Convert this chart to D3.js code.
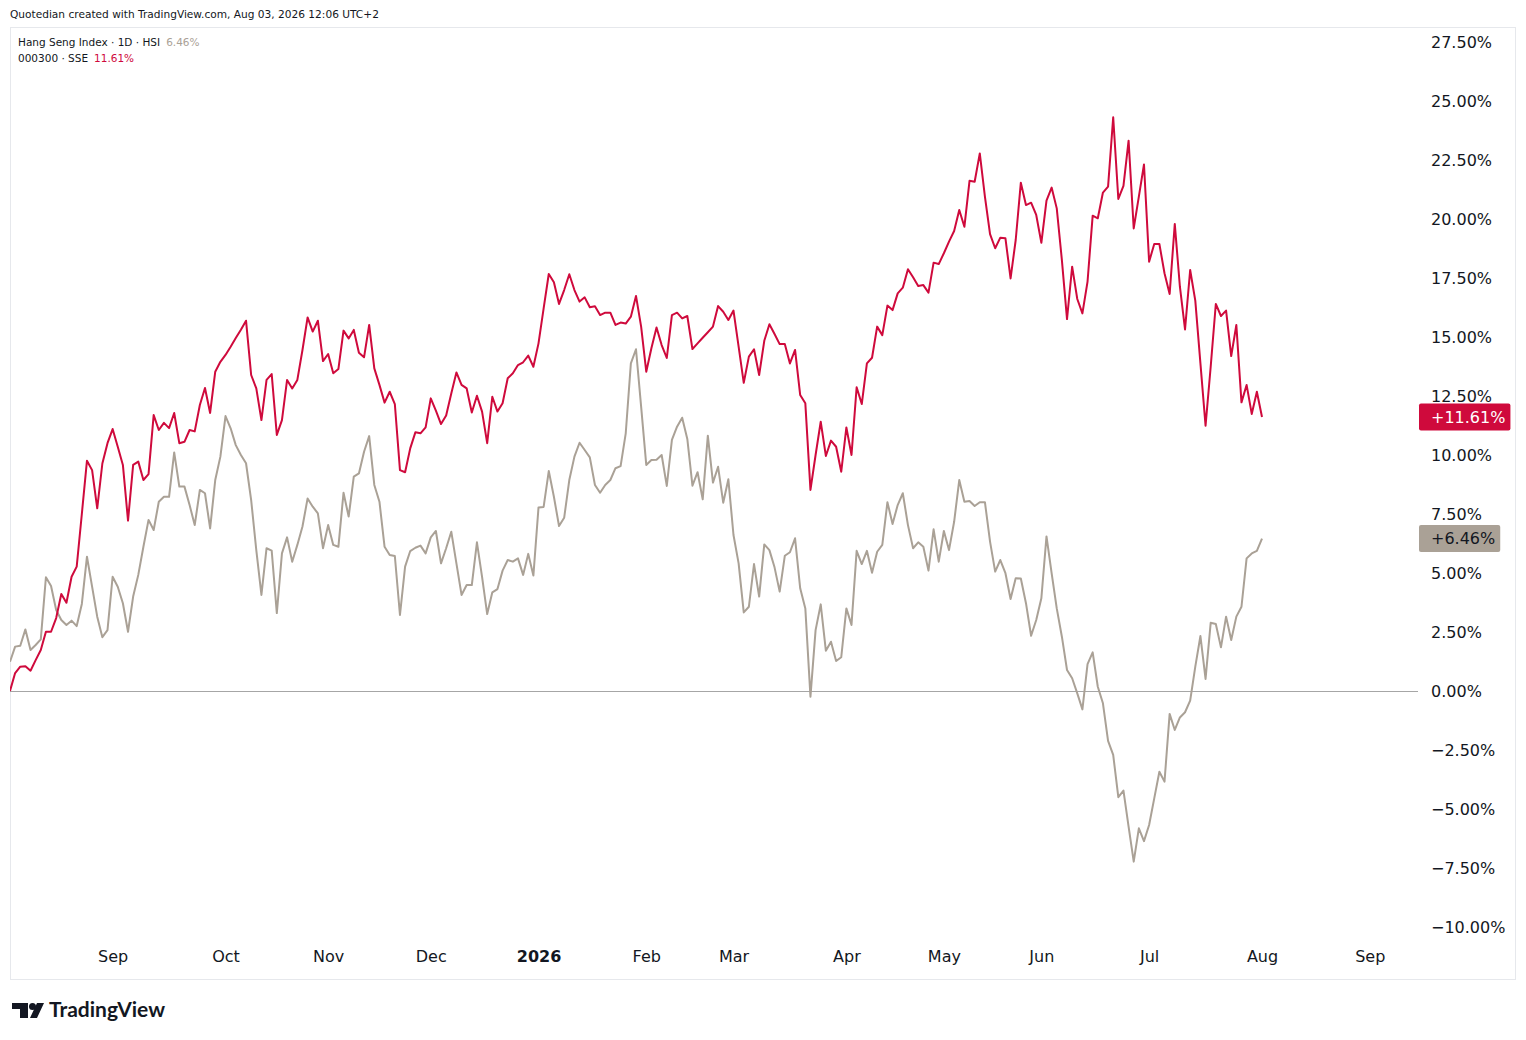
<!DOCTYPE html>
<html>
<head>
<meta charset="utf-8">
<script src="https://cdn.jsdelivr.net/npm/d3@7/dist/d3.min.js"></script>
<style>
body { margin: 0; background: #fff; }
svg text { fill: #131722; }
</style>
</head>
<body>
<svg id="chart"></svg>
<script>
// % change since first bar, one value per HK trading day (Aug 4 2025 .. Aug 3 2026)
var hsiValues = [
  1.24,1.88,1.92,2.61,1.74,1.95,2.19,4.82,4.45,3.43,3.01,2.80,2.98,2.75,3.69,5.69,4.42,3.15,2.28,2.58,
  4.84,4.42,3.72,2.51,4.00,4.92,6.11,7.25,6.82,8.02,8.23,8.23,10.11,8.66,8.66,7.88,7.03,8.52,8.38,6.89,
  8.94,9.93,11.65,11.13,10.42,10.00,9.65,8.09,5.97,4.07,6.05,5.95,3.30,5.83,6.51,5.48,6.19,6.97,8.16,7.81,
  7.53,6.05,7.03,6.19,6.11,8.40,7.39,9.08,9.22,10.14,10.80,8.73,8.02,6.11,5.76,5.72,3.22,5.27,5.93,6.07,
  6.16,5.83,6.51,6.78,5.41,6.05,6.75,5.41,4.07,4.49,4.49,6.30,4.84,3.26,4.18,4.32,5.10,5.55,5.48,5.62,
  4.92,5.81,4.89,7.78,7.80,9.32,8.23,6.99,7.34,8.94,9.93,10.52,10.21,9.90,8.73,8.40,8.73,8.94,9.44,9.53,
  10.92,13.88,14.48,12.05,9.58,9.79,9.80,10.00,8.69,10.64,11.20,11.58,10.68,8.70,9.27,8.12,10.82,8.83,9.50,7.98,
  8.97,6.61,5.41,3.33,3.57,5.38,4.00,6.21,5.97,5.24,4.21,5.73,5.88,6.47,4.35,3.50,-0.24,2.58,3.67,1.71,
  2.09,1.27,1.43,3.50,2.80,5.94,5.38,5.94,5.01,5.90,6.19,8.00,7.08,7.88,8.38,7.03,6.05,6.30,6.11,5.10,
  6.85,5.48,6.78,5.97,7.17,8.94,8.02,8.05,7.84,8.00,8.00,6.33,5.06,5.55,4.99,3.90,4.78,4.77,3.72,2.34,
  3.01,3.93,6.55,4.99,3.50,2.30,0.89,0.54,-0.10,-0.78,1.14,1.64,0.18,-0.52,-2.11,-2.71,-4.50,-4.22,-5.75,-7.23,
  -5.82,-6.36,-5.68,-4.55,-3.42,-3.84,-0.97,-1.65,-1.12,-0.90,-0.41,1.03,2.33,0.51,2.89,2.84,1.85,3.15,2.16,3.15,
  3.57,5.62,5.83,5.94,6.46
];
var sseValues = [
  0.00,0.76,1.03,1.05,0.86,1.31,1.74,2.51,2.51,3.09,4.11,3.74,4.84,5.27,7.50,9.76,9.36,7.74,9.64,10.50,
  11.10,10.35,9.58,7.22,9.58,9.72,8.94,9.19,11.69,11.06,11.36,11.14,11.78,10.50,10.56,11.06,11.00,12.12,12.84,11.78,
  13.53,13.95,14.24,14.59,14.96,15.31,15.69,13.39,12.82,11.48,13.18,13.43,10.85,11.48,13.18,12.82,13.18,14.45,15.83,15.23,
  15.69,13.98,14.28,13.46,13.64,15.27,14.94,15.30,14.33,14.14,15.51,13.67,12.97,12.22,12.68,12.16,9.36,9.27,10.28,10.96,
  10.92,11.17,12.40,11.88,11.31,11.67,12.61,13.50,12.97,12.82,11.80,12.51,11.84,10.50,12.47,11.84,12.19,13.25,13.46,13.81,
  13.93,14.21,13.74,14.73,16.21,17.67,17.32,16.40,16.99,17.66,16.99,16.50,16.68,16.26,16.30,15.93,16.03,16.03,15.51,15.61,
  15.57,15.86,16.74,15.44,13.53,14.52,15.40,14.66,14.11,15.93,16.03,15.79,15.89,14.49,14.73,14.97,15.20,15.44,16.31,16.07,
  15.72,16.12,14.59,13.06,14.17,14.48,13.39,14.84,15.54,15.13,14.70,14.70,13.88,14.45,12.54,12.19,8.52,10.00,11.41,9.96,
  10.61,10.35,9.29,11.17,10.00,12.87,12.16,13.88,14.12,15.44,15.08,16.33,16.14,16.85,17.09,17.87,17.53,17.16,17.20,16.88,
  18.15,18.09,18.55,19.04,19.49,20.38,19.67,21.62,21.58,22.78,20.95,19.36,18.76,19.21,19.18,17.48,19.11,21.54,20.59,20.69,
  20.17,18.99,20.78,21.33,20.45,18.26,15.76,17.98,16.61,16.00,17.35,20.14,20.03,21.12,21.37,24.31,20.85,21.40,23.32,19.60,
  20.95,22.31,18.19,18.94,18.94,17.70,16.82,19.79,17.13,15.32,17.84,16.54,13.88,11.24,13.74,16.40,15.89,16.12,14.19,15.51,
  12.23,12.97,11.74,12.68,11.61
];
var priceTicks = [-10, -7.5, -5, -2.5, 0, 2.5, 5, 7.5, 10, 12.5, 15, 17.5, 20, 22.5, 25, 27.5];
var monthNames = ["Jan","Feb","Mar","Apr","May","Jun","Jul","Aug","Sep","Oct","Nov","Dec"];
var hkHolidays = ["2025-10-01","2025-10-07","2025-10-29","2025-12-25","2025-12-26","2026-01-01",
  "2026-02-17","2026-02-18","2026-02-19","2026-04-03","2026-04-06","2026-04-07",
  "2026-05-01","2026-05-25","2026-06-19","2026-07-01"];
var firstDay = "2025-08-04", lastDay = "2026-10-01";

var W = 1526, H = 1040;
var red = "#cf0a3c", grey = "#aaa196";
var font = "'DejaVu Sans', sans-serif";

var parse = d3.timeParse("%Y-%m-%d"), fmt = d3.timeFormat("%Y-%m-%d");
var days = d3.timeDay.range(parse(firstDay), parse(lastDay)).filter(function(d){
  return d.getDay() % 6 != 0 && hkHolidays.indexOf(fmt(d)) < 0;
});

var svg = d3.select("#chart").attr("width", W).attr("height", H).style("font-family", font);

var plot = { left: 10, right: 1418, top: 27, bottom: 940 };

var x = d3.scaleLinear().domain([0, sseValues.length - 1]).range([10, 1262]);
var y = d3.scaleLinear().domain([0, 25]).range([691, 101]);

// frame
svg.append("rect").attr("x", 10.5).attr("y", 27.5).attr("width", 1505).attr("height", 952)
  .attr("fill", "none").attr("stroke", "#e6e8ec");

svg.append("text").attr("x", 10).attr("y", 18).style("font-size", "10.6px")
  .text("Quotedian created with TradingView.com, Aug 03, 2026 12:06 UTC+2");

svg.append("clipPath").attr("id", "clip").append("rect")
  .attr("x", plot.left).attr("y", plot.top).attr("width", plot.right - plot.left).attr("height", plot.bottom - plot.top);

// zero line
svg.append("line").attr("x1", plot.left).attr("x2", plot.right)
  .attr("y1", Math.round(y(0)) + 0.5).attr("y2", Math.round(y(0)) + 0.5)
  .attr("stroke", "#a6a6a6").attr("stroke-width", 1);

var line = d3.line().x(function(d, i){ return x(i); }).y(function(d){ return y(d); });

var g = svg.append("g").attr("clip-path", "url(#clip)");
g.append("path").datum(hsiValues).attr("d", line).attr("fill", "none")
  .attr("stroke", grey).attr("stroke-width", 2).attr("stroke-linejoin", "round");
g.append("path").datum(sseValues).attr("d", line).attr("fill", "none")
  .attr("stroke", red).attr("stroke-width", 2).attr("stroke-linejoin", "round");

// legend
var leg = svg.append("g").style("font-size", "10.5px");
var l1 = leg.append("text").attr("x", 18).attr("y", 46);
l1.append("tspan").text("Hang Seng Index · 1D · HSI");
l1.append("tspan").attr("dx", 6).style("fill", grey).text(d3.format(".2f")(hsiValues[hsiValues.length-1]) + "%");
var l2 = leg.append("text").attr("x", 18).attr("y", 62);
l2.append("tspan").text("000300 · SSE");
l2.append("tspan").attr("dx", 6).style("fill", red).text(d3.format(".2f")(sseValues[sseValues.length-1]) + "%");

// price axis
var yAxis = d3.axisRight(y).tickValues(priceTicks).tickSize(0).tickPadding(0)
  .tickFormat(function(d){ return d3.format(".2f")(d) + "%"; });
var ya = svg.append("g").attr("transform", "translate(1431,0)").call(yAxis);
ya.select(".domain").remove();
ya.selectAll("text").style("font-size", "16px").style("font-family", font).style("fill", "#131722");

// time axis: first trading day of each month
var monthTicks = [];
days.forEach(function(d, i){
  if (i > 0 && d.getMonth() != days[i-1].getMonth() && x(i) < 1400) monthTicks.push(i);
});
var xAxis = d3.axisBottom(x).tickValues(monthTicks).tickSize(0).tickPadding(0)
  .tickFormat(function(i){
    var d = days[i];
    return d.getMonth() == 0 ? String(d.getFullYear()) : monthNames[d.getMonth()];
  });
var xa = svg.append("g").attr("transform", "translate(0,951)").call(xAxis);
xa.select(".domain").remove();
xa.selectAll("text").style("font-size", "16px").style("font-family", font).style("fill", "#131722")
  .style("font-weight", function(i){ return days[i].getMonth() == 0 ? "bold" : "normal"; });

// last value badges
function badge(v, fill, color) {
  var b = svg.append("g");
  var r = b.append("rect").attr("fill", fill).attr("rx", 2);
  var t = b.append("text").attr("x", 1431).attr("y", y(v)).attr("dy", "0.35em")
    .style("font-size", "16px").style("fill", color).text("+" + d3.format(".2f")(v) + "%");
  var w = t.node().getComputedTextLength();
  r.attr("x", 1419).attr("y", y(v) - 13.5).attr("width", w + 17).attr("height", 27);
}
badge(sseValues[sseValues.length-1], red, "#ffffff");
badge(hsiValues[hsiValues.length-1], grey, "#131722");

// TradingView logo
var logo = svg.append("g").attr("fill", "#131722");
logo.append("path").attr("d", "M12,1003 H28 V1018 H20 V1009 H12 Z");
logo.append("circle").attr("cx", 32.5).attr("cy", 1006.5).attr("r", 3.5);
logo.append("path").attr("d", "M37,1003 H44 L37,1018 H30 Z");
svg.append("text").attr("x", 49).attr("y", 1017)
  .style("font-family", "Lato, sans-serif").style("font-size", "21px").style("font-weight", "bold")
  .style("fill", "#131722").text("TradingView");
</script>
</body>
</html>
